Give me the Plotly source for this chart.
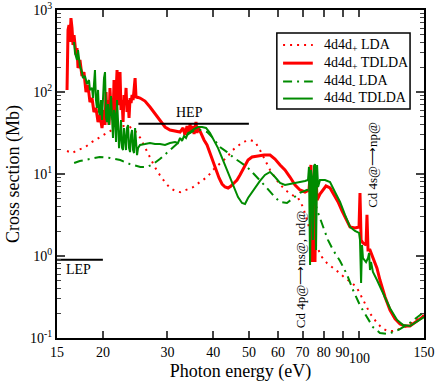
import numpy as np
import plotly.graph_objects as go

RED = "#ff0000"
GREEN = "#008b00"
FONT = "Liberation Serif"

# 4d4d+ LDA (dotted red)
lda_p_x = [15.97, 16.5, 17.1, 17.9, 18.7, 19.6, 20.7, 21.7, 22.8, 23.7, 24.5, 25.3, 26.1,
           26.9, 27.7, 28.6, 29.5, 30.5, 31.5, 32.5, 33.9, 35.2, 36.8, 38.5, 39.9, 41.7,
           43.6, 45.2, 46.7, 48.2, 50.4, 52.0, 53.6, 55.3, 57.1, 60.0, 62.7, 65.9, 68.1,
           70.2, 72.0, 74.3, 76.7, 79.1, 81.6, 84.2, 87.5, 91.4, 95.5, 98.5, 102.3, 106.9,
           111.7, 115.3, 119.0, 123.5, 129.0, 134.9, 140.0, 145.4, 150.0]
lda_p_y = [19.1, 18.0, 19.6, 21.3, 24.6, 28.3, 32.5, 36.4, 38.5, 37.4, 33.4, 27.5, 20.7,
           15.7, 12.2, 9.7, 8.0, 6.75, 6.2, 6.0, 6.4, 6.9, 8.0, 9.2, 11.2, 13.6,
           16.1, 19.6, 21.9, 24.6, 26.0, 24.6, 19.6, 14.8, 11.2, 8.0, 6.4, 5.5, 5.1,
           3.96, 2.75, 1.71, 1.28, 0.97, 0.82, 0.74, 0.64, 0.54, 0.47, 0.41, 0.29, 0.20,
           0.153, 0.132, 0.122, 0.122, 0.129, 0.14, 0.157, 0.176, 0.19]

# 4d4d+ TDLDA (solid red)
tdlda_p_x = [15.97, 16.07, 16.17, 16.27, 16.37, 16.48, 16.58, 16.69, 16.9, 17.0, 17.11, 17.32,
             17.54, 17.76, 17.99, 18.21, 18.44, 18.68, 18.91, 19.15, 19.40, 19.64, 19.89,
             20.14, 20.27, 20.40, 20.52, 20.65, 20.78, 20.91, 21.05, 21.18, 21.31, 21.45,
             21.58, 21.72, 21.86, 22.00, 22.13, 22.27, 22.41, 22.56, 22.70, 22.84, 22.99,
             23.13, 23.27, 23.42, 23.57, 23.72, 23.87, 24.02, 24.17, 24.32, 24.48, 24.63,
             24.78, 25.25, 26.05, 26.88, 27.74, 28.62, 29.54, 30.48, 31.45, 32.46, 33.07,
             33.49, 33.91, 34.34, 34.56, 34.77, 35.22, 35.44, 35.66, 35.88, 36.11, 36.34,
             36.8, 37.26, 37.73, 38.45, 39.18, 39.93, 40.69, 41.46, 42.25, 43.05, 43.87,
             44.70, 45.56, 46.41, 47.29, 48.5, 49.73, 51.0, 52.95, 55.0, 57.1, 58.9, 60.8,
             62.7, 64.7, 66.8, 68.9, 71.1, 72.9, 73.4, 73.8, 74.3, 74.7, 75.2, 75.7, 76.2,
             76.7, 78.1, 79.6, 81.1, 83.2, 85.3, 87.5, 89.7, 92.0, 94.3, 97.3, 99.8, 100.4,
             101.1, 102.3, 104.3, 104.9, 105.6, 106.9, 108.9, 111.7, 113.8, 117.5, 121.2,
             125.1, 129.1, 133.2, 137.4, 141.8, 146.4, 150.0]
tdlda_p_y = [106, 570, 656, 407, 798, 603, 374, 495, 283, 344, 196, 246,
             157, 175, 100, 122, 75.5, 84.5, 57.0, 63.8, 43.1, 52.4, 36.4,
             60.3, 39.6, 100, 48.2, 79.8, 39.6, 112, 57.0, 84.5, 45.6, 140,
             48.2, 106, 185, 69.4, 91.9, 175, 60.3, 79.8, 43.1, 91.9, 69.4,
             112, 57.0, 79.8, 48.2, 84.5, 73.4, 91.9, 79.8, 106, 148, 84.5,
             86.9, 84.5, 77.6, 65.6, 53.9, 44.3, 37.4, 34.4, 33.4, 32.5, 36.4,
             29.9, 38.5, 31.6, 40.7, 32.5, 38.5, 30.7, 36.4, 43.1, 31.6, 37.4,
             33.4, 29.0, 26.0, 22.6, 18.0, 14.0, 11.2, 8.94, 7.55, 6.94, 6.75,
             7.14, 7.77, 8.45, 9.73, 12.2, 14.8, 16.1, 16.6, 17.0, 17.0, 15.2, 12.9,
             11.2, 9.19, 7.34, 6.38, 6.03, 6.38, 9.73, 12.9, 0.844, 5.54, 8.45, 0.844, 9.73,
             4.82, 5.70, 6.38, 7.14, 6.75, 5.54, 4.56, 3.54, 2.75, 2.26, 2.20, 2.26, 5.86,
             1.57, 1.44, 1.36, 3.17, 1.18, 1.18, 0.944, 0.71, 0.509, 0.316, 0.219,
             0.171, 0.148, 0.140, 0.140, 0.153, 0.171, 0.185]

# 4d4d- LDA (dash-dot green)
lda_m_x = [16.7, 17.3, 18.4, 19.6, 20.9, 22.3, 23.7, 25.3, 26.4, 27.4, 28.6, 29.9, 31.05,
           32.5, 33.9, 35.2, 36.8, 38.5, 39.9, 41.7, 43.6, 45.2, 47.3, 49.4, 51.3, 53.6,
           56.0, 58.9, 60.8, 63.5, 65.9, 68.9, 72.0, 74.3, 77.2, 79.6, 82.1, 84.8, 88.6,
           92.6, 96.1, 100.4, 104.9, 108.9, 113.8, 119.0, 123.5, 129.0, 137.4, 143.6, 150.0]
lda_m_y = [13.6, 14.4, 15.2, 16.1, 15.7, 14.8, 13.2, 12.2, 12.2, 13.2, 15.2, 18.0, 20.7,
           25.3, 29.9, 33.4, 34.4, 32.5, 27.5, 21.3, 18.5, 16.1, 14.0, 12.2, 10.3, 8.45,
           6.75, 5.2, 4.56, 4.43, 5.1, 5.9, 6.4, 5.9, 3.35, 2.26, 1.57, 1.18, 0.87,
           0.59, 0.385, 0.25, 0.176, 0.136, 0.115, 0.112, 0.118, 0.128, 0.153, 0.176, 0.207]

# 4d4d- TDLDA (solid green)
tdlda_m_x = [16.69, 16.79, 17.0, 17.11, 17.32, 17.54, 17.65, 17.87, 18.10, 18.33, 18.44,
             18.68, 18.80, 18.91, 19.03, 19.15, 19.27, 19.40, 19.52, 19.64, 19.77, 19.89,
             20.02, 20.14, 20.27, 20.40, 20.52, 20.65, 20.78, 20.91, 21.05, 21.18, 21.31,
             21.45, 21.58, 21.72, 21.86, 22.00, 22.13, 22.27, 22.41, 22.56, 22.70, 22.84,
             22.99, 23.13, 23.27, 23.42, 23.57, 23.72, 23.87, 24.02, 24.17, 24.32, 24.48,
             24.63, 24.78, 24.94, 25.25, 26.05, 26.88, 27.74, 28.62, 29.54, 30.48, 31.45,
             32.05, 32.46, 32.87, 33.28, 33.70, 34.13, 34.56, 35.44, 36.34, 37.26, 38.21,
             39.18, 40.18, 41.2, 42.25, 43.32, 44.42, 45.56, 46.7, 47.89, 48.8, 49.73,
             51.0, 52.29, 53.6, 55.3, 57.1, 58.9, 60.8, 62.7, 64.7, 68.06, 71.1, 72.46,
             72.9, 73.4, 73.8, 74.3, 74.7, 75.2, 75.7, 76.2, 76.7, 77.2, 78.1, 80.6, 83.2,
             85.8, 88.6, 91.4, 94.3, 97.3, 99.8, 100.4, 101.1, 101.7, 102.3, 104.3, 105.6,
             106.3, 106.9, 107.6, 108.9, 111.7, 116.0, 121.2, 126.7, 131.6, 137.4, 143.6,
             150.0]
tdlda_m_y = [407, 299, 246, 325, 208, 175, 148, 157, 125, 140, 106,
             112, 84.5, 122, 185, 79.8, 63.8, 106, 57.0, 52.4, 79.8, 45.6,
             91.9, 148, 175, 48.2, 43.1, 71.4, 39.6, 52.4, 89.4, 34.4, 27.5,
             60.3, 52.4, 24.6, 79.8, 43.1, 20.7, 27.5, 45.6, 20.7, 19.6, 36.4,
             22.6, 19.6, 36.4, 39.6, 20.7, 18.5, 29.9, 34.4, 19.6, 18.0, 36.4,
             19.6, 17.0, 20.7, 22.6, 23.2, 23.9, 23.2, 23.2, 22.6, 23.9, 24.6,
             23.9, 27.5, 25.3, 29.0, 27.5, 31.6, 32.5, 35.4, 37.4, 37.4, 36.4,
             31.6, 26.0, 20.7, 15.7, 11.8, 8.94, 6.75, 5.24, 4.43, 4.31, 5.10,
             6.03, 7.14, 8.22, 9.73, 10.6, 9.19, 7.77, 7.34, 7.55, 7.77, 8.22, 8.45,
             12.2, 0.776, 11.2, 8.94, 1.57, 12.5, 13.2, 1.18, 12.9, 6.94, 8.45, 8.45, 7.99,
             6.03, 4.56, 3.17, 2.26, 2.02, 1.91, 1.57, 0.468, 1.36, 0.944, 0.844, 0.944,
             1.09, 0.675, 0.844, 0.638, 0.509, 0.354, 0.231, 0.166, 0.144, 0.140, 0.157,
             0.180]

# reference bars
lep_x = [15, 20]
lep_y = [0.9, 0.9]
hep_x = [25, 50]
hep_y = [41, 41]

x_ticks = [15, 20, 30, 40, 50, 60, 70, 80, 90, 100, 150]
x_ticktext = ["15", "20", "30", "40", "50", "60", "70", "80", "90", "", "150"]
y_ticks = [0.1, 1, 10, 100, 1000]
y_ticktext = ["10<sup>-1</sup>", "10<sup>0</sup>", "10<sup>1</sup>", "10<sup>2</sup>", "10<sup>3</sup>"]
y_minor = [m * 10.0 ** k for k in range(-1, 3) for m in range(2, 10)]

series = [
    ("4d4d<sub>+</sub> LDA", lda_p_x, lda_p_y, dict(color=RED, width=2, dash="2px,5px")),
    ("4d4d<sub>+</sub> TDLDA", tdlda_p_x, tdlda_p_y, dict(color=RED, width=3)),
    ("4d4d<sub>-</sub> LDA", lda_m_x, lda_m_y, dict(color=GREEN, width=2, dash="9px,5px,2px,5px")),
    ("4d4d<sub>-</sub> TDLDA", tdlda_m_x, tdlda_m_y, dict(color=GREEN, width=2)),
]

fig = go.Figure()

for name, sx, sy, line in series:
    fig.add_trace(go.Scatter(x=sx, y=sy, mode="lines", name=name, line=line, showlegend=False))

for bx, by in [(lep_x, lep_y), (hep_x, hep_y)]:
    fig.add_trace(go.Scatter(x=bx, y=by, mode="lines", showlegend=False,
                             line=dict(color="black", width=2)))

text_font = dict(family=FONT, size=14, color="black")
side_font = dict(family=FONT, size=13, color="black")
fig.add_annotation(x=np.log10(17.2), y=np.log10(0.68), text="LEP", showarrow=False, font=text_font)
fig.add_annotation(x=np.log10(34.5), y=np.log10(57), text="HEP", showarrow=False, font=text_font)
fig.add_annotation(x=np.log10(68.9), y=np.log10(0.69), text="Cd 4p@\u27f6ns@, nd@",
                   textangle=-90, showarrow=False, font=side_font)
fig.add_annotation(x=np.log10(108.9), y=np.log10(12.9), text="Cd 4s@\u27f6np@",
                   textangle=-90, showarrow=False, font=side_font)

# the "100" tick label sits a little lower than the others, as in the original
fig.add_annotation(x=np.log10(100), xref="x", y=0, yref="paper", text="100",
                   yanchor="middle", yshift=-20, showarrow=False, font=text_font)

# hand-drawn legend box (plotly's own legend rows are too tall)
fig.add_shape(type="rect", xref="paper", yref="paper", x0=0.599, x1=0.962, y0=0.698, y1=0.930,
              line=dict(color="black", width=1.5), fillcolor="white", layer="above")
row_y = [0.893, 0.838, 0.782, 0.730]
for (name, _, _, line), ry in zip(series, row_y):
    fig.add_shape(type="line", xref="paper", yref="paper", x0=0.616, x1=0.697, y0=ry, y1=ry,
                  line=line, layer="above")
    fig.add_annotation(xref="paper", yref="paper", x=0.722, y=ry, text=name,
                       xanchor="left", yanchor="middle", showarrow=False, font=text_font)

fig.update_layout(
    width=436,
    height=382,
    margin=dict(l=57, r=12, t=10, b=44),
    plot_bgcolor="white",
    paper_bgcolor="white",
    font=dict(family=FONT, size=14, color="black"),
    showlegend=False,
)

fig.update_xaxes(
    type="log",
    range=[np.log10(15) - 1e-4, np.log10(150) + 1e-4],
    tickvals=x_ticks,
    ticktext=x_ticktext,
    tickangle=0,
    ticklabeloverflow="allow",
    ticks="inside", ticklen=7, tickwidth=1.5,
    showline=True, linecolor="black", linewidth=2, mirror="ticks",
    showgrid=False, zeroline=False, automargin=False,
    title=dict(text="Photon energy (eV)", font=dict(family=FONT, size=18), standoff=8),
)
fig.update_yaxes(
    type="log",
    range=[-1, 3],
    tickvals=y_ticks,
    ticktext=y_ticktext,
    ticks="inside", ticklen=8, tickwidth=1.5,
    minor=dict(tickvals=y_minor, ticks="inside", ticklen=4, tickwidth=1, showgrid=False),
    showline=True, linecolor="black", linewidth=2, mirror="ticks",
    showgrid=False, zeroline=False, automargin=False,
    title=dict(text="Cross section (Mb)", font=dict(family=FONT, size=18), standoff=6),
)

fig.write_html("out.html", config={"displayModeBar": False},
               post_script="document.body.style.margin = '0';")
